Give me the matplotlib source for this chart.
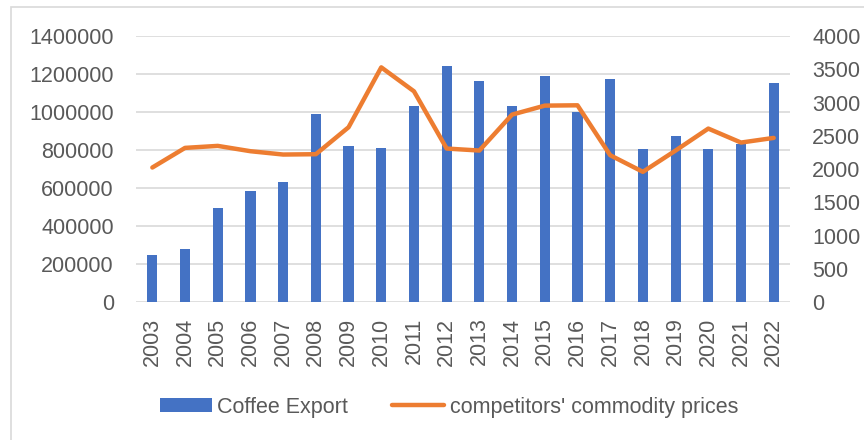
import matplotlib.pyplot as plt
from matplotlib.lines import Line2D
from matplotlib.patches import Patch, Rectangle
from matplotlib.ticker import FuncFormatter

plt.rcParams['font.family'] = ['Liberation Sans', 'DejaVu Sans']

years = [str(y) for y in range(2003, 2023)]
coffee_export = [250000, 280000, 497000, 583000, 633000, 988000, 821000, 812000,
                 1033000, 1242000, 1165000, 1031000, 1189000, 1002000, 1175000,
                 807000, 874000, 808000, 832000, 1151000]
commodity_prices = [2025, 2320, 2350, 2270, 2220, 2225, 2630, 3530, 3170, 2310,
                    2280, 2820, 2955, 2960, 2210, 1960, 2280, 2610, 2400, 2470]

bar_color = '#4472C4'
line_color = '#ED7D31'
text_color = '#595959'
grid_color = '#D9D9D9'

fig = plt.figure(figsize=(8.64, 4.4), dpi=100)
ax = fig.add_axes([0.1574, 0.313, 0.757, 0.605])
ax2 = ax.twinx()

x = range(len(years))
ax.bar(x, coffee_export, width=0.31, color=bar_color, zorder=2)
ax2.plot(x, commodity_prices, color=line_color, linewidth=3.2,
         solid_capstyle='round', solid_joinstyle='round', zorder=3)

ax.set_xlim(-0.5, len(years) - 0.5)
ax.set_ylim(0, 1400000)
ax.set_yticks(range(0, 1400001, 200000))
ax.yaxis.set_major_formatter(FuncFormatter(lambda v, p: f'{v:.0f}'))
ax2.set_ylim(0, 4000)
ax2.set_yticks(range(0, 4001, 500))

ax.set_xticks(list(x))
ax.set_xticklabels(years, rotation=90)

ax.grid(axis='y', color=grid_color, linewidth=1.2, zorder=0)
ax.set_axisbelow(True)
for a in (ax, ax2):
    for s in a.spines.values():
        s.set_visible(False)
ax.tick_params(axis='both', length=0, labelsize=15.5, labelcolor=text_color)
ax.tick_params(axis='y', pad=16)
ax.tick_params(axis='x', pad=11)
ax2.tick_params(axis='y', length=0, labelsize=15.5, labelcolor=text_color, pad=16)

# outer chart border
fig.patches.append(Rectangle((11 / 864, -0.05), 1.0, 1.0 - 7 / 440 + 0.05,
                             transform=fig.transFigure, fill=False,
                             edgecolor=grid_color, linewidth=1.2))

handles = [Patch(facecolor=bar_color, label='Coffee Export'),
           Line2D([0], [0], color=line_color, linewidth=3.2,
                  solid_capstyle='round', label="competitors' commodity prices")]
leg = fig.legend(handles=handles, loc='center', bbox_to_anchor=(0.5197, 0.075),
                 ncol=2, frameon=False, fontsize=15.5, handlelength=2.42,
                 handleheight=0.65, handletextpad=0.25, columnspacing=2.05)
for t in leg.get_texts():
    t.set_color(text_color)

fig.savefig('out.png', dpi=100)
